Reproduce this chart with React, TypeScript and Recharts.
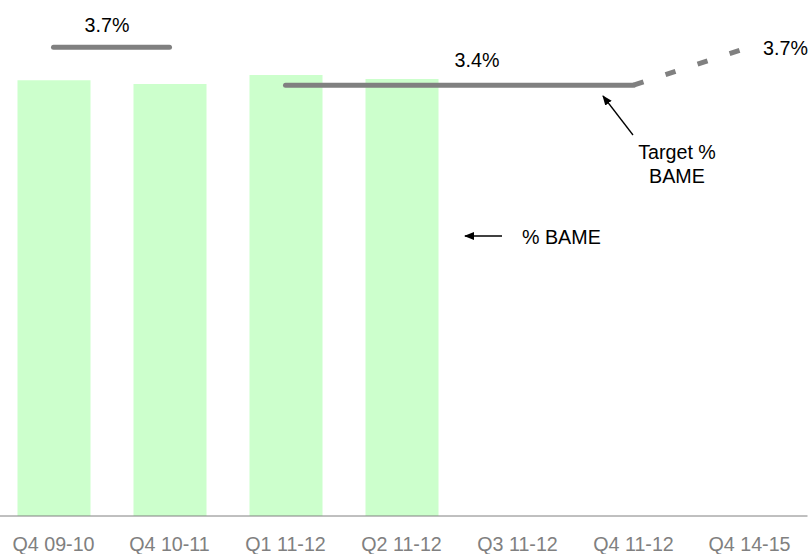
import * as React from 'react';
import {
    ComposedChart,
    Bar,
    Line,
    XAxis,
    YAxis,
    Customized
} from 'recharts';

const quarters = [
    'Q4 09-10',
    'Q4 10-11',
    'Q1 11-12',
    'Q2 11-12',
    'Q3 11-12',
    'Q4 11-12',
    'Q4 14-15'
];
const bameShare = [3.44, 3.41, 3.48, 3.45, null, null, null];
const targetOld = [3.7, 3.7, null, null, null, null, null];
const targetNow = [null, null, 3.4, 3.4, 3.4, 3.4, null];
const targetNext = [null, null, null, null, null, 3.4, 3.7];

const rows = quarters.map((q, i) => ({
    quarter: q,
    bame: bameShare[i],
    oldTarget: targetOld[i],
    nowTarget: targetNow[i],
    nextTarget: targetNext[i]
}));

const FONT = '"Liberation Sans", Arial, sans-serif';
const GREY = '#808080';
const SIZE = 19.7;

const pctLabel = (at: number, dx: number, dy: number, anchor: string) => (props: any) => {
    if (props.index !== at || props.value == null) return null;
    return (
        <text
            x={props.x + dx}
            y={props.y + dy}
            textAnchor={anchor}
            fontSize={SIZE}
            fontFamily={FONT}
            fill="#000"
        >
            {props.value}%
        </text>
    );
};

const Notes = () => (
    <g fontFamily={FONT} fontSize={SIZE} fill="#000">
        <defs>
            <marker
                id="head"
                markerWidth="10"
                markerHeight="8"
                refX="9"
                refY="4"
                orient="auto"
                markerUnits="userSpaceOnUse"
            >
                <path d="M0,0 L10,4 L0,8 Z" fill="#000" />
            </marker>
        </defs>
        <line x1={633} y1={135} x2={603} y2={96} stroke="#000" strokeWidth={1.3} markerEnd="url(#head)" />
        <text x={677} y={159} textAnchor="middle">Target %</text>
        <text x={677} y={183} textAnchor="middle">BAME</text>
        <line x1={502} y1={236} x2={465} y2={236} stroke="#000" strokeWidth={1.3} markerEnd="url(#head)" />
        <text x={522} y={244}>% BAME</text>
    </g>
);

export default function App() {
    return (
        <div style={{ position: 'absolute', left: 0, top: 0 }}>
            <ComposedChart
                width={810}
                height={554}
                data={rows}
                margin={{ top: 9.2, right: 2.5, bottom: 8, left: -4.5 }}
            >
                <XAxis
                    dataKey="quarter"
                    height={30}
                    tickLine={false}
                    tickMargin={15}
                    axisLine={{ stroke: GREY, strokeWidth: 1 }}
                    tick={{ fill: GREY, fontSize: SIZE, fontFamily: FONT }}
                    interval={0}
                />
                <YAxis hide domain={[0, 4]} />
                <Bar dataKey="bame" fill="#CCFFCC" barSize={73} isAnimationActive={false} />
                <Line
                    dataKey="oldTarget"
                    stroke={GREY}
                    strokeWidth={5}
                    strokeLinecap="round"
                    dot={false}
                    activeDot={false}
                    label={pctLabel(0, 53.5, -15.5, 'middle')}
                    isAnimationActive={false}
                />
                <Line
                    dataKey="nowTarget"
                    stroke={GREY}
                    strokeWidth={5}
                    strokeLinecap="round"
                    dot={false}
                    activeDot={false}
                    label={pctLabel(3, 75.5, -18, 'middle')}
                    isAnimationActive={false}
                />
                <Line
                    dataKey="nextTarget"
                    stroke={GREY}
                    strokeWidth={5}
                    strokeDasharray="10.5 23.2"
                    dot={false}
                    activeDot={false}
                    label={pctLabel(6, 13.5, 8, 'start')}
                    isAnimationActive={false}
                />
                <Customized component={Notes} />
            </ComposedChart>
        </div>
    );
}
